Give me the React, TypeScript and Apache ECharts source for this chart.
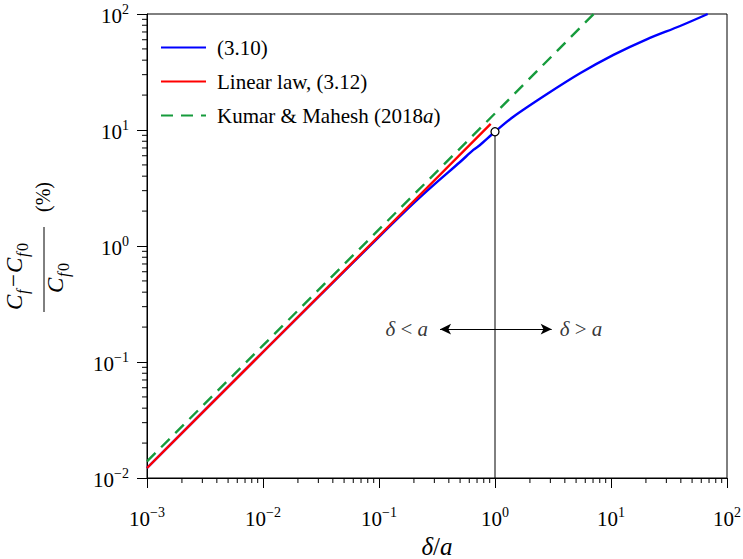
import React, { useEffect, useRef } from "react";
import * as echarts from "echarts";

// ---- data ----
const X_MIN = 0.001;
const X_MAX = 100;
const Y_MIN = 0.01;
const Y_MAX = 100;

// (3.10)
const blueX = [0.001, 0.01, 0.05, 0.1, 0.2, 0.3, 0.5, 0.65, 0.743, 1, 1.44, 2.79, 5.41, 10.5, 20.3, 39.4, 68.2];
const blueY = [0.0122, 0.122, 0.605, 1.2, 2.35, 3.4, 5.3, 6.73, 7.43, 9.66, 13.0, 20.3, 30.8, 44.4, 60.5, 78.8, 100];
// Linear law, (3.12)
const redX = [0.001, 0.01, 0.1, 0.918];
const redY = [0.0122, 0.122, 1.22, 11.3];
// Kumar & Mahesh (2018a)
const greenX = [0.001, 0.01, 0.1, 1, 7.1];
const greenY = [0.0139, 0.139, 1.39, 13.9, 100];
// marker at delta = a
const markerX = [1];
const markerY = [9.66];
// arrow ends
const arrowX = [0.336, 3.08];
const arrowY = [0.192, 0.192];
const arrowLabels = ["{i|δ}{n| < }{i|a}", "{i|δ}{n| > }{i|a}"];

const seriesNames = ["(3.10)", "Linear law, (3.12)", "Kumar & Mahesh (2018a)"];

const xDecades = [-3, -2, -1, 0, 1];
const yDecades = [-2, -1, 0, 1];
const minorSteps = [2, 3, 4, 5, 6, 7, 8, 9];

const FONT = "Liberation Serif";

const zip = (a: number[], b: number[]) => a.map((v, i) => [v, b[i]]);

const tickRich = {
  b: { fontFamily: FONT, fontSize: 21, color: "#000", lineHeight: 24, verticalAlign: "bottom" },
  s: { fontFamily: FONT, fontSize: 14, color: "#000", lineHeight: 14, verticalAlign: "top" },
};

const powLabel = (v: number) => {
  const e = Math.round(Math.log10(v));
  const t = e < 0 ? "−" + -e : String(e);
  return "{b|10}{s|" + t + "}";
};

export default function App() {
  const ref = useRef<HTMLDivElement>(null);

  useEffect(() => {
    if (!ref.current) return;
    const chart = echarts.init(ref.current, undefined, { renderer: "svg" });

    const xMinor = xDecades.flatMap((e) => minorSteps.map((m) => [m * Math.pow(10, e), Y_MIN]));
    const yMinor = yDecades.flatMap((e) => minorSteps.map((m) => [X_MIN, m * Math.pow(10, e)]));

    const italic = { fontFamily: FONT, fontSize: 23, fontStyle: "italic", fill: "#000" };
    const sub = { fontFamily: FONT, fontSize: 16, fontStyle: "italic", fill: "#000" };
    const subUp = { fontFamily: FONT, fontSize: 16, fill: "#000" };
    const upr = { fontFamily: FONT, fontSize: 23, fill: "#000" };
    const t = (text: string, x: number, y: number, st: any, align = "left") => ({
      type: "text",
      x,
      y,
      style: { ...st, text, align, verticalAlign: "middle" },
    });

    chart.setOption({
      animation: false,
      textStyle: { fontFamily: FONT },
      grid: {
        left: 147,
        right: 16,
        top: 14,
        bottom: 81,
        outerBoundsMode: "none",
        containLabel: false,
        show: true,
        borderColor: "#000",
        borderWidth: 1,
        backgroundColor: "transparent",
      },
      legend: {
        data: seriesNames,
        orient: "vertical",
        left: 160,
        top: 37,
        padding: 0,
        itemWidth: 45,
        itemHeight: 14,
        itemGap: 13,
        selectedMode: false,
        itemStyle: { opacity: 0 },
        formatter: (name: string) =>
          name === "Kumar & Mahesh (2018a)" ? "{n|Kumar & Mahesh (2018}{i|a}{n|)}" : "{n|" + name + "}",
        textStyle: {
          fontFamily: FONT,
          padding: [0, 0, 0, 6],
          rich: {
            n: { fontFamily: FONT, fontSize: 21, color: "#000", lineHeight: 22 },
            i: { fontFamily: FONT, fontSize: 21, color: "#000", fontStyle: "italic", lineHeight: 22 },
          },
        },
      },
      xAxis: {
        type: "log",
        logBase: 10,
        min: X_MIN,
        max: X_MAX,
        axisLine: { show: true, lineStyle: { color: "#000", width: 1 } },
        axisTick: { show: true, inside: false, length: 10, lineStyle: { color: "#000", width: 1 } },
        axisLabel: { margin: 27, showMinLabel: true, showMaxLabel: true, formatter: powLabel, rich: tickRich },
        splitLine: { show: false },
        minorTick: { show: false },
        name: "{i|δ}{n|/}{i|a}",
        nameLocation: "middle",
        nameGap: 51,
        nameTextStyle: {
          rich: {
            i: { fontFamily: FONT, fontSize: 25, fontStyle: "italic", color: "#000", lineHeight: 28 },
            n: { fontFamily: FONT, fontSize: 25, color: "#000", lineHeight: 28 },
          },
        },
      },
      yAxis: {
        type: "log",
        logBase: 10,
        min: Y_MIN,
        max: Y_MAX,
        axisLine: { show: true, lineStyle: { color: "#000", width: 1 } },
        axisTick: { show: true, inside: false, length: 10, lineStyle: { color: "#000", width: 1 } },
        axisLabel: { margin: 18, showMinLabel: true, showMaxLabel: true, formatter: powLabel, rich: tickRich },
        splitLine: { show: false },
        minorTick: { show: false },
      },
      graphic: [
        {
          type: "group",
          x: 44,
          y: 270,
          rotation: Math.PI / 2,
          children: [
            { type: "line", shape: { x1: -42, y1: 0, x2: 43, y2: 0 }, style: { stroke: "#000", lineWidth: 1 } },
            t("C", -40, -30, italic),
            t("f", -24, -22, sub),
            t("−", -17, -31, upr),
            t("C", -3, -30, italic),
            t("f", 13, -22, sub),
            t("0", 19, -22, subUp),
            t("C", -23, 11, italic),
            t("f", -7, 19, sub),
            t("0", -1, 19, subUp),
            t("(%)", 73, -1, { fontFamily: FONT, fontSize: 20, fill: "#000" }, "center"),
          ],
        },
      ],
      series: [
        {
          type: "scatter",
          name: "xMinor",
          silent: true,
          clip: false,
          symbol: "rect",
          symbolSize: [1, 5],
          symbolOffset: [0, 2.5],
          itemStyle: { color: "#000", opacity: 1 },
          data: xMinor,
          z: 5,
        },
        {
          type: "scatter",
          name: "yMinor",
          silent: true,
          clip: false,
          symbol: "rect",
          symbolSize: [5, 1],
          symbolOffset: [-2.5, 0],
          itemStyle: { color: "#000", opacity: 1 },
          data: yMinor,
          z: 5,
        },
        {
          type: "line",
          name: "guide",
          silent: true,
          symbol: "none",
          data: [
            [markerX[0], Y_MIN],
            [markerX[0], markerY[0]],
          ],
          lineStyle: { color: "#000", width: 1 },
          z: 2,
          markLine: {
            silent: true,
            symbol: ["arrow", "arrow"],
            symbolSize: [8, 11],
            label: { show: false },
            lineStyle: { color: "#000", width: 1, type: "solid" },
            data: [[{ coord: [arrowX[0], arrowY[0]] }, { coord: [arrowX[1], arrowY[1]] }]],
          },
        },
        {
          type: "line",
          name: seriesNames[0],
          data: zip(blueX, blueY),
          symbol: "none",
          smooth: 0.3,
          color: "#0000ff",
          lineStyle: { color: "#0000ff", width: 2.4 },
          z: 3,
        },
        {
          type: "line",
          name: seriesNames[1],
          data: zip(redX, redY),
          symbol: "none",
          color: "#ff0000",
          lineStyle: { color: "#ff0000", width: 2.4 },
          z: 4,
        },
        {
          type: "line",
          name: seriesNames[2],
          data: zip(greenX, greenY),
          symbol: "none",
          color: "#169b3c",
          lineStyle: { color: "#169b3c", width: 2.4, type: [12, 8] },
          z: 4,
        },
        {
          type: "scatter",
          name: "marker",
          silent: true,
          data: zip(markerX, markerY),
          symbol: "circle",
          symbolSize: 8,
          itemStyle: { color: "#fff", borderColor: "#000", borderWidth: 1.3, opacity: 1 },
          z: 6,
        },
        {
          type: "scatter",
          name: "notes",
          silent: true,
          symbolSize: 0,
          data: zip(arrowX, arrowY).map((p, i) => ({
            value: p,
            label: {
              show: true,
              color: "#000",
              position: i === 0 ? "left" : "right",
              distance: i === 0 ? 12 : 8,
              formatter: arrowLabels[i],
              rich: {
                i: { fontFamily: FONT, fontSize: 21, fontStyle: "italic", color: "#000" },
                n: { fontFamily: FONT, fontSize: 21, color: "#000" },
              },
            },
          })),
          z: 6,
        },
      ],
    });

    return () => chart.dispose();
  }, []);

  return (
    <div
      ref={ref}
      style={{ position: "absolute", left: 0, top: 0, width: 743, height: 559, background: "#fff" }}
    />
  );
}
